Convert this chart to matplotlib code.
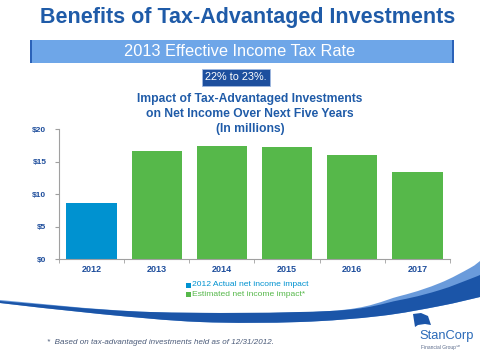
import matplotlib
matplotlib.use("Agg")
import matplotlib.pyplot as plt
from matplotlib.patches import Rectangle, PathPatch, Polygon
from matplotlib.path import Path
import numpy as np

plt.rcParams['font.family'] = ['Liberation Sans', 'DejaVu Sans']

years = ["2012", "2013", "2014", "2015", "2016", "2017"]
values = [8.7, 16.6, 17.4, 17.3, 16.0, 13.5]
series = ["actual", "est", "est", "est", "est", "est"]
yticks = [0, 5, 10, 15, 20]
ytick_labels = ["$0", "$5", "$10", "$15", "$20"]
legend_labels = ["2012 Actual net income impact", "Estimated net income impact*"]

BLUE = "#0092D0"
GREEN = "#56B84A"
TITLE = "#1F5BA8"
DARK = "#1F4E9C"

W, H = 480, 354
fig = plt.figure(figsize=(W/100, H/100), dpi=100)
fig.patch.set_facecolor("white")

def fx(x): return x / W
def fy(y): return 1 - y / H

# Title
fig.text(fx(248), fy(18), "Benefits of Tax-Advantaged Investments", ha="center", va="center",
         fontsize=15.5, fontweight="bold", color=TITLE)

# Banner
fig.patches.append(Rectangle((fx(30), fy(63)), fx(424), 23/H, transform=fig.transFigure,
                             facecolor="#6EA6E8", edgecolor="none"))
fig.patches.append(Rectangle((fx(30), fy(63)), fx(2), 23/H, transform=fig.transFigure,
                             facecolor="#2B62B8", edgecolor="none"))
fig.patches.append(Rectangle((fx(452), fy(63)), fx(2), 23/H, transform=fig.transFigure,
                             facecolor="#2B62B8", edgecolor="none"))
fig.text(fx(240), fy(52), "2013 Effective Income Tax Rate", ha="center", va="center",
         fontsize=11.8, color="white")

# Rate box
fig.patches.append(Rectangle((fx(202), fy(86)), fx(68), 17/H, transform=fig.transFigure,
                             facecolor="#1D4F9E", edgecolor="#9FB9E0", linewidth=0.6))
fig.text(fx(236), fy(77.5), "22% to 23%.", ha="center", va="center", fontsize=7.8, color="white")

# Chart title
fig.text(fx(250), fy(114), "Impact of Tax-Advantaged Investments\non Net Income Over Next Five Years\n(In millions)",
         ha="center", va="center", fontsize=8.7, fontweight="bold", color=TITLE, linespacing=1.3)

# Swoosh (decorative)
top_light = [(0, 300), (150, 312), (330, 311), (400, 296), (440, 283), (470, 268), (480, 261)]
top_dark = [(0, 301), (150, 312), (330, 311), (400, 300), (440, 290), (470, 279), (480, 275)]
bottom = [(480, 297), (440, 306), (380, 316), (300, 322), (200, 322), (100, 314), (0, 303)]

def cr(points):
    v = [points[0]]; c = []
    n = len(points)
    for i in range(n-1):
        p0 = points[i-1] if i > 0 else points[i]
        p1 = points[i]; p2 = points[i+1]
        p3 = points[i+2] if i+2 < n else points[i+1]
        c1 = (p1[0] + (p2[0]-p0[0])/6, p1[1] + (p2[1]-p0[1])/6)
        c2 = (p2[0] - (p3[0]-p1[0])/6, p2[1] - (p3[1]-p1[1])/6)
        v += [c1, c2, p2]; c += [Path.CURVE4]*3
    return v, c

def smooth_path(top, bot):
    pts = [(fx(x), fy(y)) for x, y in top]
    tv, tc = cr(pts)
    bpts = [(fx(x), fy(y)) for x, y in bot]
    bv, bc = cr(bpts)
    verts = tv + [bpts[0]] + bv[1:] + [tv[0]]
    codes = [Path.MOVETO] + tc + [Path.LINETO] + bc + [Path.CLOSEPOLY]
    return Path(verts, codes)

fig.patches.append(PathPatch(smooth_path(top_light, bottom), transform=fig.transFigure,
                             facecolor="#6A9BDB", edgecolor="none"))
fig.patches.append(PathPatch(smooth_path(top_dark, bottom), transform=fig.transFigure,
                             facecolor="#1B55A8", edgecolor="none"))

# Axes
ax = fig.add_axes([fx(59), fy(259.3), 391/W, 130/H])
colors = [BLUE if s == "actual" else GREEN for s in series]
x = np.arange(len(years))
ax.bar(x, values, width=0.77, color=colors, edgecolor="none", zorder=2)
ax.set_xlim(-0.5, len(years) - 0.5)
ax.set_ylim(0, 20)
ax.set_yticks(yticks)
ax.set_yticklabels(ytick_labels, fontsize=6, fontweight="bold", color=DARK)
ax.set_xticks(x)
ax.set_xticklabels(years, fontsize=6.5, fontweight="bold", color=DARK)
ax.tick_params(axis="x", length=0, pad=4)
ax.set_xticks(np.arange(-0.5, len(years)), minor=True)
ax.tick_params(axis="x", which="minor", length=3, color="#A0A0A0", direction="out")
ax.tick_params(axis="y", length=3, color="#A0A0A0", pad=6)
for s in ["top", "right"]:
    ax.spines[s].set_visible(False)
for s in ["left", "bottom"]:
    ax.spines[s].set_color("#A0A0A0")
    ax.spines[s].set_linewidth(0.8)
ax.set_facecolor("none")

# Legend
leg_y = [285, 294]
leg_col = [BLUE, GREEN]
for yy, lab, cc in zip(leg_y, legend_labels, leg_col):
    fig.patches.append(Rectangle((fx(186), fy(yy + 2.5)), fx(5), 5/H, transform=fig.transFigure,
                                 facecolor=cc, edgecolor="none"))
    fig.text(fx(192), fy(yy), lab, ha="left", va="center", fontsize=6.1, color=cc)

# Footnote
fig.text(fx(47), fy(342), "*  Based on tax-advantaged investments held as of 12/31/2012.", ha="left",
         va="center", fontsize=5.8, style="italic", color="#4A5A78")

# Logo
flag = [(413, 314), (421, 313), (428, 316), (431, 325), (425, 324), (418, 325), (415, 327)]
fig.patches.append(Polygon([(fx(a), fy(b)) for a, b in flag], closed=True, transform=fig.transFigure,
                           facecolor="#1B55A8", edgecolor="none"))
fig.text(fx(446.5), fy(336), "StanCorp", ha="center", va="center", fontsize=9.3, color="#2A6AB8")
fig.text(fx(421), fy(348), "Financial Group\u2120", ha="left", va="center", fontsize=3.5, color="#5A6A8A")

fig.savefig("out.png", dpi=100, facecolor="white")
